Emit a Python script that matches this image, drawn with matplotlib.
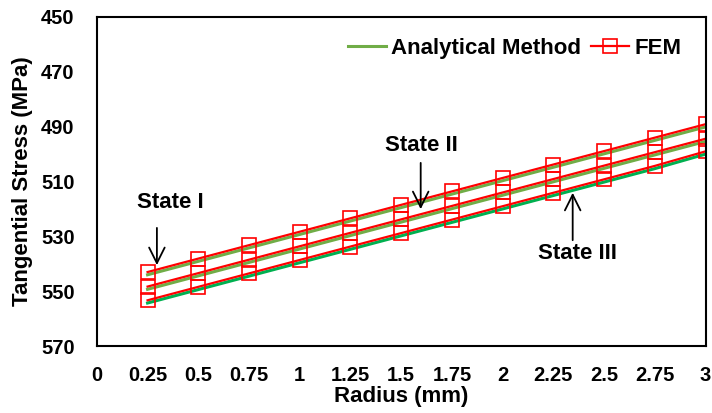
import matplotlib

matplotlib.use("Agg")
import matplotlib.pyplot as plt

plt.rcParams["font.family"] = ["Liberation Sans", "DejaVu Sans"]
plt.rcParams["font.weight"] = "bold"

GREEN = "#70AD47"
GREEN3 = "#00B050"
RED = "#FF0000"

radius = [0.25, 0.5, 0.75, 1.0, 1.25, 1.5, 1.75, 2.0, 2.25, 2.5, 2.75, 3.0]

fem_1 = [543.0, 538.1, 533.2, 528.3, 523.4, 518.5, 513.6, 508.7, 503.8, 498.9, 494.0, 489.1]
ana_1 = [544.0, 539.1, 534.2, 529.3, 524.4, 519.5, 514.6, 509.7, 504.8, 499.9, 495.0, 490.1]
fem_2 = [548.3, 543.4, 538.5, 533.6, 528.7, 523.8, 518.9, 514.0, 509.1, 504.2, 499.3, 494.4]
ana_2 = [549.3, 544.4, 539.5, 534.6, 529.7, 524.8, 519.9, 515.0, 510.1, 505.2, 500.3, 495.4]
fem_3 = [553.3, 548.4, 543.5, 538.6, 533.7, 528.8, 523.9, 519.0, 514.1, 509.2, 504.3, 499.0]
ana_3 = [554.3, 549.4, 544.5, 539.6, 534.7, 529.8, 524.9, 520.0, 515.1, 510.2, 505.3, 500.0]

xticks = [0, 0.25, 0.5, 0.75, 1, 1.25, 1.5, 1.75, 2, 2.25, 2.5, 2.75, 3]
xtick_labels = ["0", "0.25", "0.5", "0.75", "1", "1.25", "1.5", "1.75", "2",
                "2.25", "2.5", "2.75", "3"]
yticks = [450, 470, 490, 510, 530, 550, 570]

fig = plt.figure(figsize=(7.12, 4.13), dpi=100)
ax = fig.add_axes([0.136, 0.162, 0.855, 0.797])

# analytical lines under, FEM on top
ax.plot(radius, ana_1, color=GREEN, lw=2.2, label="Analytical Method")
ax.plot(radius, ana_2, color=GREEN, lw=2.2)
ax.plot(radius, ana_3, color=GREEN3, lw=2.2)
mk = dict(color=RED, lw=1.6, marker="s", markersize=9.5, mfc="none",
          mec=RED, mew=1.2)
ax.plot(radius, fem_1, label="FEM", **mk)
ax.plot(radius, fem_2, **mk)
ax.plot(radius, fem_3, **mk)

ax.set_xlim(0, 3)
ax.set_ylim(570, 450)
ax.set_xticks(xticks)
ax.set_xticklabels(xtick_labels)
ax.set_yticks(yticks)
ax.tick_params(length=0, labelsize=14.5)
ax.tick_params(axis="x", pad=14)
ax.tick_params(axis="y", pad=16)
for lab in ax.get_xticklabels() + ax.get_yticklabels():
    lab.set_fontweight("bold")
for s in ax.spines.values():
    s.set_color("black")
    s.set_linewidth(1.5)

ax.set_xlabel("Radius (mm)", fontsize=16, fontweight="bold", labelpad=1)
ax.set_ylabel("Tangential Stress (MPa)", fontsize=16, fontweight="bold",
              labelpad=6)

arrow = dict(arrowstyle="->", color="black", lw=1.3, mutation_scale=28)
ax.annotate("", xy=(0.296, 541.5), xytext=(0.296, 525.9), arrowprops=arrow)
ax.text(0.36, 517.5, "State I", ha="center", va="center", fontsize=16,
        fontweight="bold")
ax.annotate("", xy=(1.596, 521.1), xytext=(1.596, 502.2), arrowprops=arrow)
ax.text(1.60, 497.0, "State II", ha="center", va="center", fontsize=16,
        fontweight="bold")
ax.annotate("", xy=(2.345, 513.1), xytext=(2.345, 532.4), arrowprops=arrow)
ax.text(2.37, 536.4, "State III", ha="center", va="center", fontsize=16,
        fontweight="bold")

ax.legend(loc="center right", bbox_to_anchor=(0.975, 0.905), ncol=2,
          frameon=False, handlelength=1.7, handletextpad=0.25,
          columnspacing=0.45, borderaxespad=0.0,
          prop={"weight": "bold", "size": 16})

fig.savefig("out.png", dpi=100)
